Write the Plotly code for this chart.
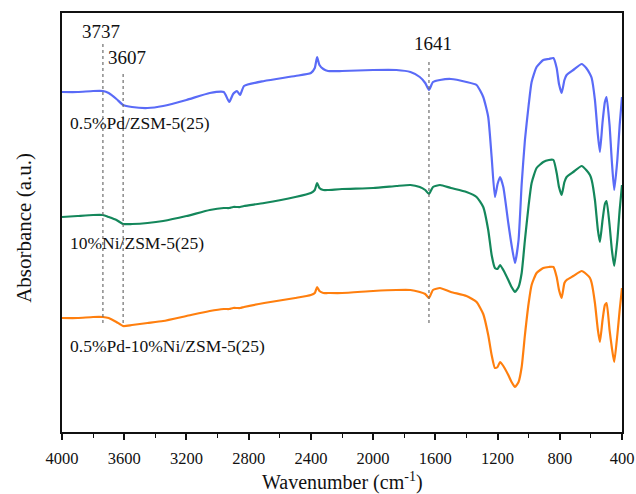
import plotly.graph_objects as go

# Wavenumber grid (cm-1)
wavenumber = [4000, 3900, 3800, 3737, 3700, 3650, 3607, 3550, 3450, 3350, 3200, 3050, 2960, 2925, 2900,
              2875, 2855, 2830, 2700, 2500, 2400, 2375, 2360, 2345, 2320, 2290, 2200, 2000, 1850, 1760,
              1700, 1665, 1641, 1615, 1570, 1500, 1400, 1335, 1292, 1260, 1238, 1217, 1200, 1184, 1163,
              1131, 1110, 1088, 1065, 1045, 1024, 1000, 981, 949, 906, 870, 841, 820, 805, 788,
              770, 756, 713, 659, 630, 606, 595, 574, 555, 542, 525, 510, 499, 480, 465,
              450, 430, 415, 400]

# Absorbance (a.u., stacked with offset as in the figure)
pd_zsm = [3.40, 3.40, 3.41, 3.41, 3.39, 3.33, 3.27, 3.25, 3.24, 3.26, 3.32, 3.39, 3.40, 3.30, 3.38,
          3.41, 3.37, 3.46, 3.51, 3.56, 3.59, 3.64, 3.75, 3.67, 3.63, 3.61, 3.61, 3.62, 3.62, 3.60,
          3.55, 3.49, 3.42, 3.50, 3.52, 3.53, 3.50, 3.47, 3.35, 3.15, 2.75, 2.35, 2.48, 2.55, 2.45,
          2.09, 1.87, 1.69, 1.92, 2.48, 2.92, 3.27, 3.50, 3.65, 3.72, 3.73, 3.74, 3.64, 3.48, 3.39,
          3.52, 3.57, 3.62, 3.68, 3.64, 3.58, 3.54, 3.32, 2.97, 2.80, 3.10, 3.30, 3.35, 3.07, 2.70,
          2.42, 2.72, 3.07, 3.35]

ni_zsm = [2.15, 2.16, 2.17, 2.17, 2.15, 2.12, 2.08, 2.08, 2.09, 2.11, 2.16, 2.22, 2.24, 2.24, 2.25,
          2.25, 2.25, 2.26, 2.29, 2.35, 2.39, 2.42, 2.49, 2.44, 2.42, 2.42, 2.43, 2.44, 2.46, 2.47,
          2.45, 2.42, 2.38, 2.45, 2.47, 2.44, 2.40, 2.35, 2.25, 2.02, 1.77, 1.64, 1.63, 1.67, 1.62,
          1.52, 1.45, 1.40, 1.45, 1.59, 1.92, 2.27, 2.49, 2.64, 2.70, 2.72, 2.72, 2.59, 2.45, 2.37,
          2.50, 2.55, 2.60, 2.66, 2.62, 2.57, 2.52, 2.32, 2.02, 1.90, 2.12, 2.28, 2.31, 2.07, 1.82,
          1.66, 1.92, 2.22, 2.47]

pdni_zsm = [1.14, 1.14, 1.15, 1.15, 1.14, 1.10, 1.06, 1.07, 1.09, 1.11, 1.16, 1.21, 1.23, 1.23, 1.24,
            1.24, 1.24, 1.25, 1.29, 1.34, 1.37, 1.39, 1.45, 1.41, 1.39, 1.39, 1.39, 1.41, 1.42, 1.42,
            1.40, 1.38, 1.34, 1.42, 1.44, 1.40, 1.36, 1.30, 1.18, 0.97, 0.77, 0.64, 0.65, 0.70, 0.66,
            0.57, 0.50, 0.45, 0.50, 0.65, 0.97, 1.29, 1.47, 1.59, 1.64, 1.65, 1.65, 1.55, 1.42, 1.34,
            1.49, 1.52, 1.56, 1.61, 1.58, 1.54, 1.49, 1.29, 1.02, 0.90, 1.12, 1.27, 1.29, 1.02, 0.84,
            0.70, 0.97, 1.22, 1.44]

series_names = ["0.5%Pd/ZSM-5(25)", "10%Ni/ZSM-5(25)", "0.5%Pd-10%Ni/ZSM-5(25)"]
series_values = [pd_zsm, ni_zsm, pdni_zsm]
series_colors = ["#5A6BF7", "#14875B", "#FF7F0E"]
label_y = [3.09, 1.89, 0.86]

peak_positions = [3737, 3607, 1641]
peak_labels = ["3737", "3607", "1641"]

x_ticks = [4000, 3600, 3200, 2800, 2400, 2000, 1600, 1200, 800, 400]

for v in series_values:
    assert len(v) == len(wavenumber), len(v)

FONT = "Liberation Serif, Times New Roman, serif"

fig = go.Figure()
for name, vals, col in zip(series_names, series_values, series_colors):
    fig.add_trace(go.Scatter(x=wavenumber, y=vals, mode="lines", name=name,
                             line=dict(color=col, width=2.2, shape="spline", smoothing=0.5),
                             showlegend=False, hoverinfo="skip"))

# dotted reference lines
line_tops = [3.89, 3.60, 3.70]
for p, top in zip(peak_positions, line_tops):
    fig.add_shape(type="line", xref="x", yref="y", x0=p, x1=p, y0=1.09, y1=top,
                  line=dict(color="#6E6E6E", width=1.2, dash="dot"))

# peak labels
peak_label_pos = [(3750, 4.01), (3580, 3.75), (1618, 3.89)]
for txt, (px, py) in zip(peak_labels, peak_label_pos):
    fig.add_annotation(x=px, y=py, xref="x", yref="y", text=txt, showarrow=False,
                       font=dict(family=FONT, size=19, color="#111111"),
                       xanchor="center", yanchor="middle")

# series labels
for name, ly in zip(series_names, label_y):
    fig.add_annotation(x=3962, y=ly, xref="x", yref="y", text=name, showarrow=False,
                       font=dict(family=FONT, size=17.5, color="#111111"),
                       xanchor="left", yanchor="middle")

# axis titles
fig.add_annotation(x=0.5, y=-0.118, xref="paper", yref="paper",
                   text="Wavenumber (cm<sup>-1</sup>)", showarrow=False,
                   font=dict(family=FONT, size=20, color="#111111"),
                   xanchor="center", yanchor="middle")
fig.add_annotation(x=-0.068, y=0.487, xref="paper", yref="paper",
                   text="Absorbance (a.u.)", showarrow=False, textangle=-90,
                   font=dict(family=FONT, size=21, color="#111111"),
                   xanchor="center", yanchor="middle")

fig.update_layout(
    width=636, height=494,
    margin=dict(l=62, r=14, t=13, b=62, autoexpand=False),
    paper_bgcolor="white", plot_bgcolor="white",
    font=dict(family=FONT, color="#111111"),
    xaxis=dict(range=[4000, 400], autorange=False, tickmode="array", tickvals=x_ticks,
               automargin=False,
               ticks="outside", ticklen=6, tickwidth=1.6, tickcolor="#111111",
               minor=dict(dtick=200, tick0=400, ticks="outside", ticklen=4, tickwidth=1.4,
                          tickcolor="#111111"),
               showline=True, linewidth=2, linecolor="#111111", mirror=True,
               showgrid=False, zeroline=False,
               tickfont=dict(family=FONT, size=16.5, color="#111111"),
               ticklabelstandoff=4),
    yaxis=dict(range=[0, 4.19], showticklabels=False, ticks="", automargin=False,
               showline=True, linewidth=2, linecolor="#111111", mirror=True,
               showgrid=False, zeroline=False),
)

fig.write_html("out.html")
